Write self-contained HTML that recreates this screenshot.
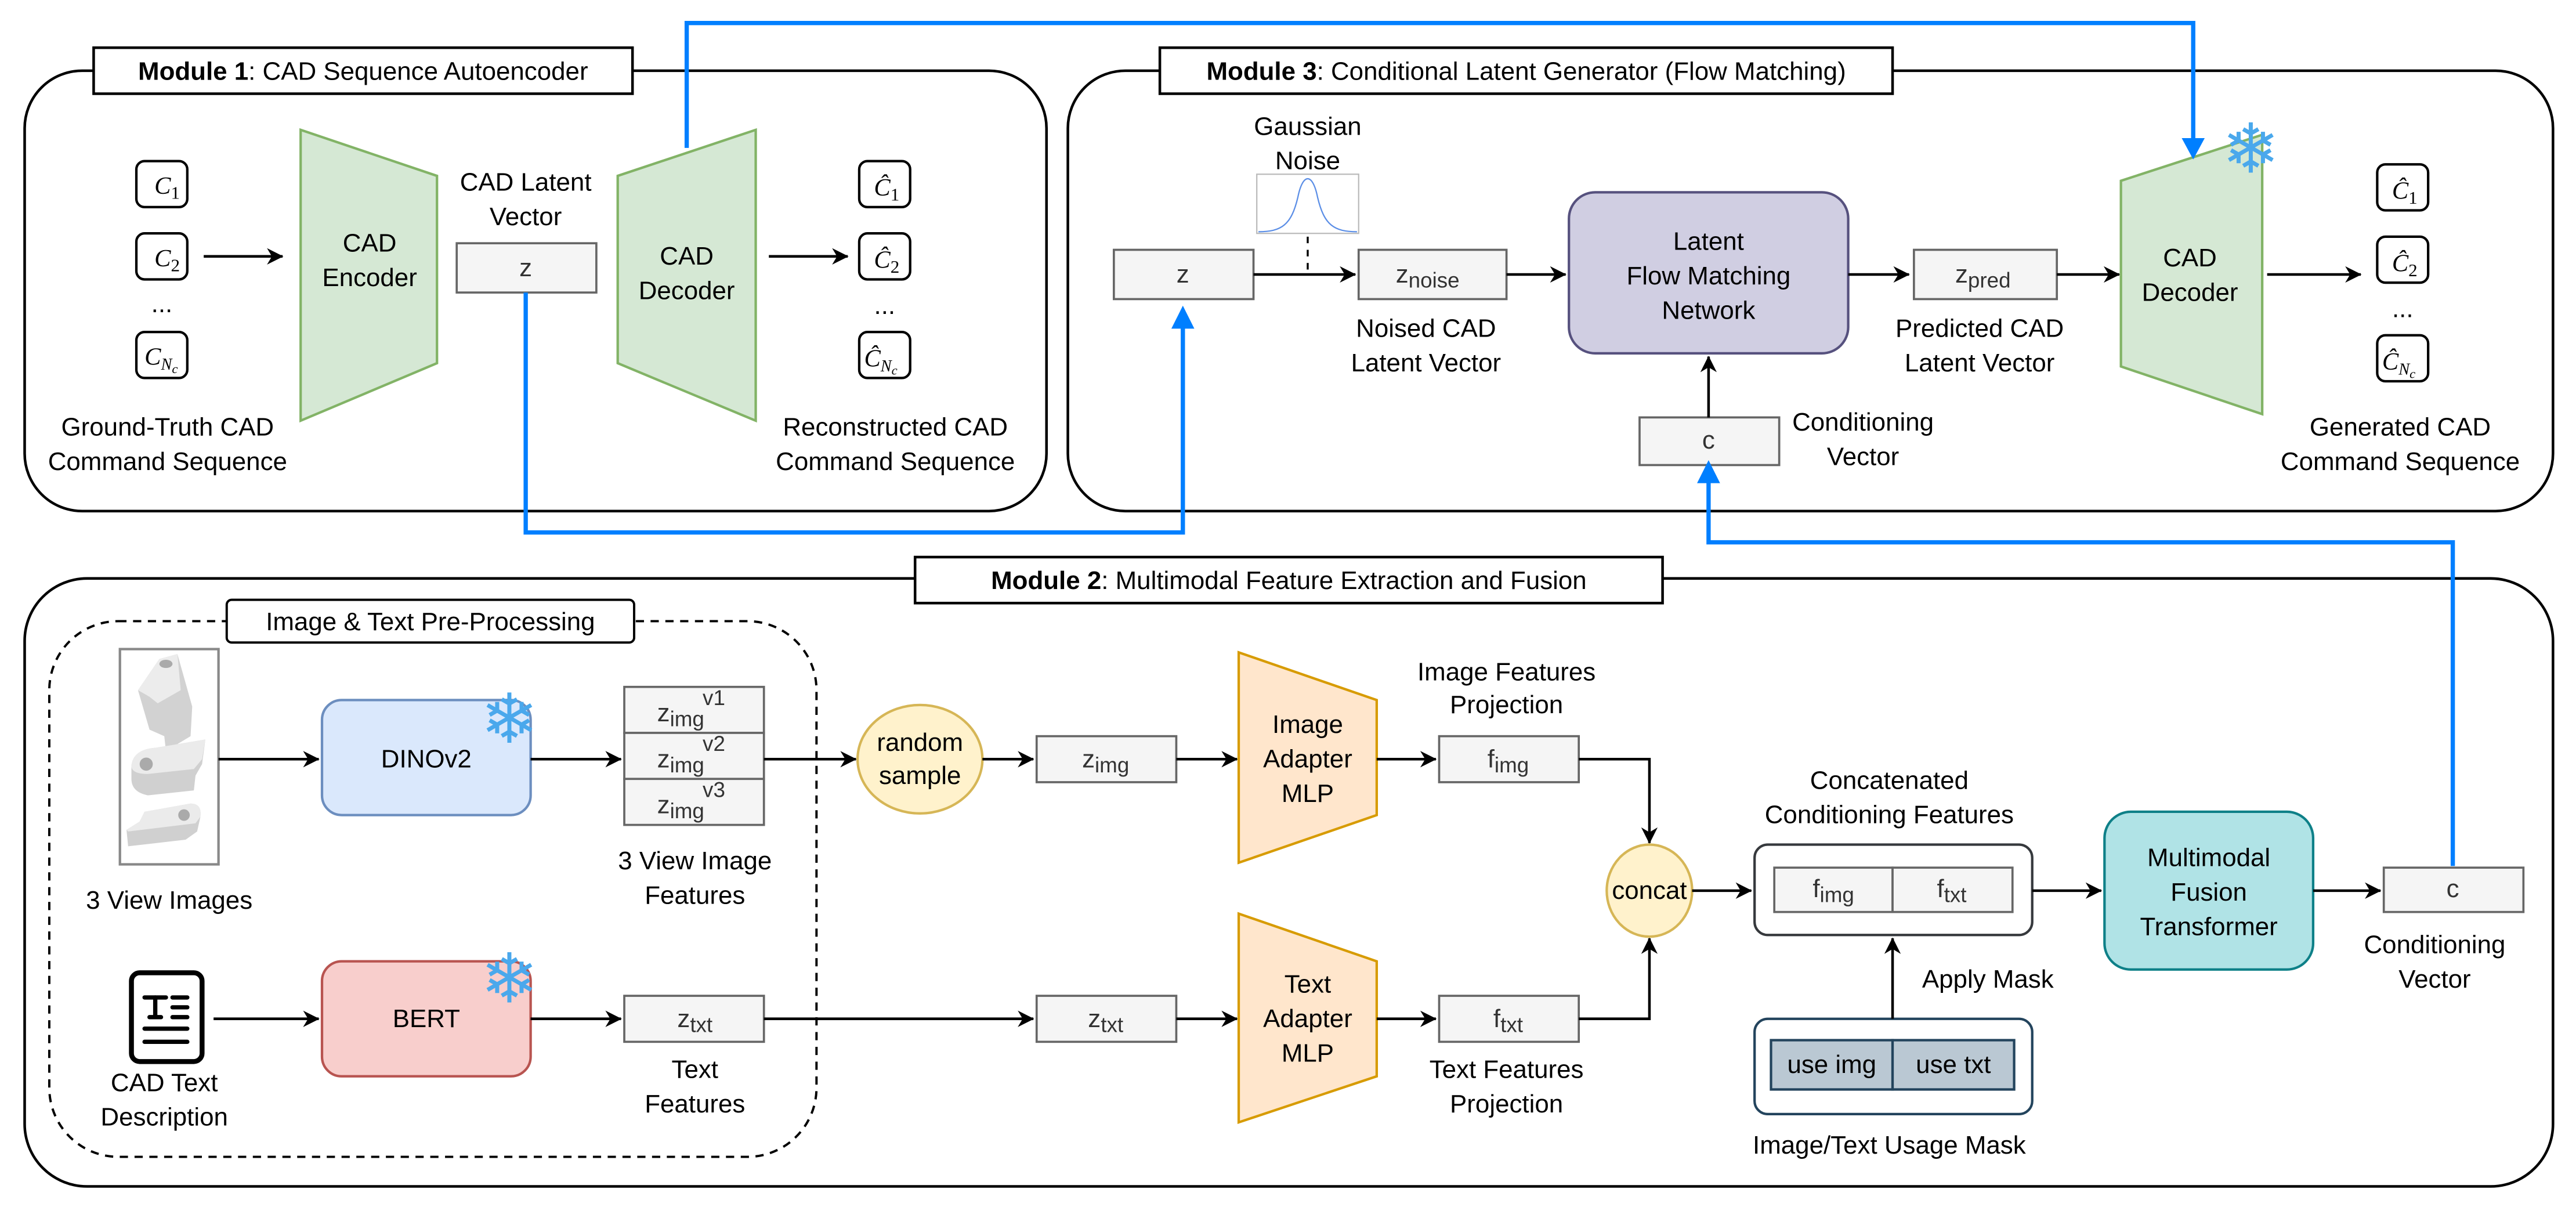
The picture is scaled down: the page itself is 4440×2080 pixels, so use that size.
<!DOCTYPE html>
<html><head><meta charset="utf-8"><style>
html,body{margin:0;padding:0;background:#fff}
svg{display:block}
text{font-family:"Liberation Sans",Arial,sans-serif;font-size:15.5px;fill:#000}
.bx{fill:#f5f5f5;stroke:#666;stroke-width:1.3}
.bt{fill:#333;text-anchor:middle}
.c{text-anchor:middle}
.ln{stroke:#000;stroke-width:1.6;fill:none}
.bl{stroke:#007fff;stroke-width:2.6;fill:none}
.m{font-family:"Liberation Serif",serif;font-style:italic;font-size:15px}
.sf{font-family:"DejaVu Sans",sans-serif;fill:#4aa8ec;font-size:42px;text-anchor:middle}
</style></head><body>
<svg width="4440" height="2080" viewBox="0 0 1568 734.5" xmlns="http://www.w3.org/2000/svg">
<defs>
<marker id="a" viewBox="0 0 10 10" refX="9.5" refY="5" markerWidth="10" markerHeight="10" markerUnits="userSpaceOnUse" orient="auto"><path d="M0,0 L10,5 L0,10 L3,5 z" fill="#000"/></marker>
</defs>
<style>.ar{marker-end:url(#a)} </style>

<rect x="15" y="43" width="622" height="268" rx="35" fill="none" stroke="#000" stroke-width="1.6"/>
<rect x="650" y="43" width="904" height="268" rx="35" fill="none" stroke="#000" stroke-width="1.6"/>
<rect x="15" y="352" width="1539" height="370" rx="38" fill="none" stroke="#000" stroke-width="1.6"/>
<rect x="30" y="378" width="467" height="326" rx="42" fill="none" stroke="#000" stroke-width="1.4" stroke-dasharray="5,4"/>

<rect x="57" y="29" width="328" height="28" fill="#fff" stroke="#000" stroke-width="1.6"/>
<text x="221" y="48.5" class="c"><tspan font-weight="bold">Module 1</tspan>: CAD Sequence Autoencoder</text>
<rect x="706" y="29" width="446" height="28" fill="#fff" stroke="#000" stroke-width="1.6"/>
<text x="929" y="48.5" class="c"><tspan font-weight="bold">Module 3</tspan>: Conditional Latent Generator (Flow Matching)</text>
<rect x="557" y="339" width="455" height="28" fill="#fff" stroke="#000" stroke-width="1.6"/>
<text x="784.5" y="358.5" class="c"><tspan font-weight="bold">Module 2</tspan>: Multimodal Feature Extraction and Fusion</text>
<rect x="138" y="365" width="248" height="26" rx="3" fill="#fff" stroke="#000" stroke-width="1.4"/>
<text x="262" y="383.5" class="c">Image &amp; Text Pre-Processing</text>

<g stroke="#000" stroke-width="1.5" fill="#fff">
<rect x="83" y="98" width="31" height="28" rx="5"/>
<rect x="83" y="142" width="31" height="28" rx="5"/>
<rect x="83" y="202" width="31" height="28" rx="5"/>
<rect x="523" y="98" width="31" height="28" rx="5"/>
<rect x="523" y="142" width="31" height="28" rx="5"/>
<rect x="523" y="202" width="31" height="28" rx="5"/>
<rect x="1447" y="100" width="31" height="28" rx="5"/>
<rect x="1447" y="144" width="31" height="28" rx="5"/>
<rect x="1447" y="204" width="31" height="28" rx="5"/>
</g>
<text x="94" y="118" class="m">C<tspan font-style="normal" font-size="11" dy="3">1</tspan></text>
<text x="94" y="162" class="m">C<tspan font-style="normal" font-size="11" dy="3">2</tspan></text>
<text x="88" y="222" class="m">C<tspan font-size="10" dy="3">N</tspan><tspan font-size="8" dy="2">c</tspan></text>
<text x="98.5" y="190" class="c">...</text>
<text x="532" y="119" class="m">Ĉ<tspan font-style="normal" font-size="11" dy="3">1</tspan></text>
<text x="532" y="163" class="m">Ĉ<tspan font-style="normal" font-size="11" dy="3">2</tspan></text>
<text x="526" y="223" class="m">Ĉ<tspan font-size="10" dy="3">N</tspan><tspan font-size="8" dy="2">c</tspan></text>
<text x="538.5" y="191" class="c">...</text>
<text x="1456" y="121" class="m">Ĉ<tspan font-style="normal" font-size="11" dy="3">1</tspan></text>
<text x="1456" y="165" class="m">Ĉ<tspan font-style="normal" font-size="11" dy="3">2</tspan></text>
<text x="1450" y="225" class="m">Ĉ<tspan font-size="10" dy="3">N</tspan><tspan font-size="8" dy="2">c</tspan></text>
<text x="1462.5" y="193" class="c">...</text>

<line x1="124" y1="156" x2="172" y2="156" class="ln ar"/>
<polygon points="183,79 266,107 266,221 183,256" fill="#d5e8d4" stroke="#82b366" stroke-width="1.5"/>
<text x="225" y="153" class="c">CAD</text><text x="225" y="174" class="c">Encoder</text>
<text x="320" y="116" class="c">CAD Latent</text><text x="320" y="137" class="c">Vector</text>
<rect x="278" y="148" width="85" height="30" class="bx"/><text x="320" y="168" class="bt">z</text>
<polygon points="376,107 460,79 460,256 376,221" fill="#d5e8d4" stroke="#82b366" stroke-width="1.5"/>
<text x="418" y="161" class="c">CAD</text><text x="418" y="182" class="c">Decoder</text>
<line x1="468" y1="156" x2="516" y2="156" class="ln ar"/>
<text x="102" y="265" class="c">Ground-Truth CAD</text><text x="102" y="286" class="c">Command Sequence</text>
<text x="545" y="265" class="c">Reconstructed CAD</text><text x="545" y="286" class="c">Command Sequence</text>

<text x="796" y="82" class="c">Gaussian</text><text x="796" y="103" class="c">Noise</text>
<rect x="765" y="106" width="62" height="36" fill="#fff" stroke="#bbb" stroke-width="0.8"/>
<path d="M766,141 C780,141 786,137 790,120 C793,105 799,105 802,120 C806,137 812,141 826,141" fill="none" stroke="#5b8ee6" stroke-width="0.8"/>
<line x1="796" y1="144" x2="796" y2="167" stroke="#000" stroke-width="1.2" stroke-dasharray="4,4"/>
<rect x="678" y="152" width="85" height="30" class="bx"/><text x="720" y="172" class="bt">z</text>
<line x1="763" y1="167" x2="825" y2="167" class="ln ar"/>
<rect x="827" y="152" width="90" height="30" class="bx"/><text x="869" y="172" class="bt">z<tspan font-size="13" dy="3">noise</tspan></text>
<text x="868" y="205" class="c">Noised CAD</text><text x="868" y="226" class="c">Latent Vector</text>
<line x1="917" y1="167" x2="953" y2="167" class="ln ar"/>
<rect x="955" y="117" width="170" height="98" rx="16" fill="#d0cee2" stroke="#56517e" stroke-width="1.5"/>
<text x="1040" y="152" class="c">Latent</text><text x="1040" y="173" class="c">Flow Matching</text><text x="1040" y="194" class="c">Network</text>
<line x1="1125" y1="167" x2="1162" y2="167" class="ln ar"/>
<rect x="1165" y="152" width="87" height="30" class="bx"/><text x="1207" y="172" class="bt">z<tspan font-size="13" dy="3">pred</tspan></text>
<text x="1205" y="205" class="c">Predicted CAD</text><text x="1205" y="226" class="c">Latent Vector</text>
<line x1="1252" y1="167" x2="1290" y2="167" class="ln ar"/>
<polygon points="1291,110 1377,82 1377,252 1291,223" fill="#d5e8d4" stroke="#82b366" stroke-width="1.5"/>
<text x="1333" y="162" class="c">CAD</text><text x="1333" y="183" class="c">Decoder</text>
<text x="1370" y="105" class="sf">❄</text>
<line x1="1380" y1="167" x2="1437" y2="167" class="ln ar"/>
<text x="1461" y="265" class="c">Generated CAD</text><text x="1461" y="286" class="c">Command Sequence</text>
<rect x="998" y="254" width="85" height="29" class="bx"/><text x="1040" y="273" class="bt">c</text>
<line x1="1040" y1="254" x2="1040" y2="217" class="ln ar"/>
<text x="1134" y="262" class="c">Conditioning</text><text x="1134" y="283" class="c">Vector</text>

<path d="M418,90 V14 H1335 V90" class="bl"/>
<polygon points="1328,84 1342,84 1335,97" fill="#007fff"/>
<path d="M320,178 V324 H720 V198" class="bl"/>
<polygon points="713,200 727,200 720,186" fill="#007fff"/>
<path d="M1493,527 V330 H1040 V292" class="bl"/>
<polygon points="1033,294 1047,294 1040,280" fill="#007fff"/>

<rect x="73" y="395" width="60" height="131" fill="#fff" stroke="#888" stroke-width="1.5"/>
<polygon points="84,420 97,401 108,398 117,430 116,448 101,457 100,448 91,444" fill="#d2d2d2"/>
<polygon points="84,420 97,401 108,398 110,420 96,428 91,424" fill="#ececec"/>
<ellipse cx="101" cy="404" rx="4" ry="2.5" fill="#aaa"/>
<path d="M80,466 Q81,456 95,455 L125,450 L123,465 L119,472 L118,481 L90,484 Q80,482 80,474 z" fill="#d0d0d0"/>
<path d="M80,466 Q81,456 95,455 L125,450 L123,462 L118,468 L90,471 Q80,471 80,466 z" fill="#ebebeb"/>
<circle cx="89" cy="465" r="4" fill="#aaa"/>
<path d="M77,505 L85,500 L88,494 L116,489 Q123,489 122,497 L120,506 L113,511 L78,515 z" fill="#d0d0d0"/>
<path d="M77,505 L85,500 L88,494 L116,489 Q123,489 122,497 L119,501 L78,506 z" fill="#ebebeb"/>
<circle cx="112" cy="496" r="3.5" fill="#aaa"/>
<text x="103" y="553" class="c">3 View Images</text>
<line x1="133" y1="462" x2="194" y2="462" class="ln ar"/>
<rect x="196" y="426" width="127" height="70" rx="12" fill="#dae8fc" stroke="#6c8ebf" stroke-width="1.5"/>
<text x="259.5" y="467" class="c">DINOv2</text>
<text x="310" y="452" class="sf">❄</text>
<line x1="323" y1="462" x2="378" y2="462" class="ln ar"/>
<rect x="380" y="418" width="85" height="28" class="bx"/>
<rect x="380" y="446" width="85" height="28" class="bx"/>
<rect x="380" y="474" width="85" height="28" class="bx"/>
<text x="400" y="439" style="text-anchor:start;fill:#333">z<tspan font-size="13" dy="3">img</tspan><tspan font-size="13" dx="-1" dy="-13">v1</tspan></text>
<text x="400" y="467" style="text-anchor:start;fill:#333">z<tspan font-size="13" dy="3">img</tspan><tspan font-size="13" dx="-1" dy="-13">v2</tspan></text>
<text x="400" y="495" style="text-anchor:start;fill:#333">z<tspan font-size="13" dy="3">img</tspan><tspan font-size="13" dx="-1" dy="-13">v3</tspan></text>
<text x="423" y="529" class="c">3 View Image</text><text x="423" y="550" class="c">Features</text>
<line x1="465" y1="462" x2="521" y2="462" class="ln ar"/>
<ellipse cx="560" cy="462" rx="38" ry="33" fill="#fff2cc" stroke="#d6b656" stroke-width="1.5"/>
<text x="560" y="457" class="c">random</text><text x="560" y="477" class="c">sample</text>
<line x1="598" y1="462" x2="629" y2="462" class="ln ar"/>
<rect x="631" y="448" width="85" height="28" class="bx"/><text x="673" y="467" class="bt">z<tspan font-size="13" dy="3">img</tspan></text>
<line x1="716" y1="462" x2="753" y2="462" class="ln ar"/>
<polygon points="754,397 838,426 838,496 754,525" fill="#ffe6cc" stroke="#d79b00" stroke-width="1.5"/>
<text x="796" y="446" class="c">Image</text><text x="796" y="467" class="c">Adapter</text><text x="796" y="488" class="c">MLP</text>
<line x1="838" y1="462" x2="874" y2="462" class="ln ar"/>
<rect x="876" y="448" width="85" height="28" class="bx"/><text x="918" y="467" class="bt">f<tspan font-size="13" dy="3">img</tspan></text>
<text x="917" y="414" class="c">Image Features</text><text x="917" y="434" class="c">Projection</text>
<path d="M961,462 H1004 V513" class="ln ar"/>

<rect x="80" y="592" width="43" height="54" rx="5" fill="#fff" stroke="#000" stroke-width="3"/>
<g stroke="#000" stroke-width="2.6" stroke-linecap="round">
<line x1="88" y1="607" x2="101" y2="607"/><line x1="94.5" y1="607" x2="94.5" y2="619"/><line x1="91" y1="619" x2="98" y2="619"/>
<line x1="105" y1="607" x2="114" y2="607"/><line x1="105" y1="613" x2="114" y2="613"/><line x1="105" y1="619" x2="114" y2="619"/>
<line x1="88" y1="626" x2="114" y2="626"/><line x1="88" y1="634" x2="114" y2="634"/>
</g>
<text x="100" y="664" class="c">CAD Text</text><text x="100" y="685" class="c">Description</text>
<line x1="130" y1="620" x2="194" y2="620" class="ln ar"/>
<rect x="196" y="585" width="127" height="70" rx="12" fill="#f8cecc" stroke="#b85450" stroke-width="1.5"/>
<text x="259.5" y="625" class="c">BERT</text>
<text x="310" y="610" class="sf">❄</text>
<line x1="323" y1="620" x2="378" y2="620" class="ln ar"/>
<rect x="380" y="606" width="85" height="28" class="bx"/><text x="423" y="625" class="bt">z<tspan font-size="13" dy="3">txt</tspan></text>
<text x="423" y="656" class="c">Text</text><text x="423" y="677" class="c">Features</text>
<line x1="465" y1="620" x2="629" y2="620" class="ln ar"/>
<rect x="631" y="606" width="85" height="28" class="bx"/><text x="673" y="625" class="bt">z<tspan font-size="13" dy="3">txt</tspan></text>
<line x1="716" y1="620" x2="753" y2="620" class="ln ar"/>
<polygon points="754,556 838,585 838,655 754,683" fill="#ffe6cc" stroke="#d79b00" stroke-width="1.5"/>
<text x="796" y="604" class="c">Text</text><text x="796" y="625" class="c">Adapter</text><text x="796" y="646" class="c">MLP</text>
<line x1="838" y1="620" x2="874" y2="620" class="ln ar"/>
<rect x="876" y="606" width="85" height="28" class="bx"/><text x="918" y="625" class="bt">f<tspan font-size="13" dy="3">txt</tspan></text>
<text x="917" y="656" class="c">Text Features</text><text x="917" y="677" class="c">Projection</text>
<path d="M961,620 H1004 V571" class="ln ar"/>

<ellipse cx="1004" cy="542" rx="26" ry="28" fill="#fff2cc" stroke="#d6b656" stroke-width="1.5"/>
<text x="1004" y="547" class="c">concat</text>
<line x1="1030" y1="542" x2="1066" y2="542" class="ln ar"/>
<text x="1150" y="480" class="c">Concatenated</text><text x="1150" y="501" class="c">Conditioning Features</text>
<rect x="1068" y="514" width="169" height="55" rx="8" fill="#fff" stroke="#36393d" stroke-width="1.5"/>
<rect x="1080" y="528" width="72" height="27" class="bx"/><rect x="1152" y="528" width="73" height="27" class="bx"/>
<text x="1116" y="546" class="bt">f<tspan font-size="13" dy="3">img</tspan></text>
<text x="1188" y="546" class="bt">f<tspan font-size="13" dy="3">txt</tspan></text>
<line x1="1237" y1="542" x2="1279" y2="542" class="ln ar"/>
<rect x="1281" y="494" width="127" height="96" rx="16" fill="#b0e3e6" stroke="#0e8088" stroke-width="1.5"/>
<text x="1344.5" y="527" class="c">Multimodal</text><text x="1344.5" y="548" class="c">Fusion</text><text x="1344.5" y="569" class="c">Transformer</text>
<line x1="1408" y1="542" x2="1449" y2="542" class="ln ar"/>
<rect x="1451" y="528" width="85" height="27" class="bx"/><text x="1493" y="546" class="bt">c</text>
<text x="1482" y="580" class="c">Conditioning</text><text x="1482" y="601" class="c">Vector</text>

<rect x="1068" y="620" width="169" height="58" rx="8" fill="#fff" stroke="#23445d" stroke-width="1.5"/>
<rect x="1078" y="633" width="74" height="30" fill="#bac8d3" stroke="#23445d" stroke-width="1.5"/>
<rect x="1152" y="633" width="74" height="30" fill="#bac8d3" stroke="#23445d" stroke-width="1.5"/>
<text x="1115" y="653" class="c">use img</text><text x="1189" y="653" class="c">use txt</text>
<line x1="1152" y1="620" x2="1152" y2="571" class="ln ar"/>
<text x="1210" y="601" class="c">Apply Mask</text>
<text x="1150" y="702" class="c">Image/Text Usage Mask</text>
</svg>
</body></html>
